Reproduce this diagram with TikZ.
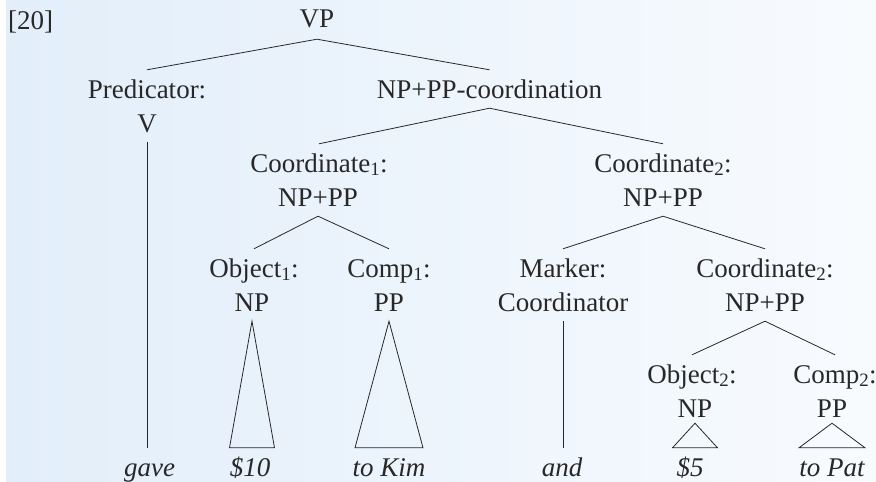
\documentclass[tikz,border=0pt]{standalone}
\usepackage{fontspec}
\setmainfont{Liberation Serif}
\definecolor{bgleft}{RGB}{226,238,250}
\definecolor{bgright}{RGB}{248,251,254}
\definecolor{ink}{RGB}{40,40,40}
\begin{document}
\begin{tikzpicture}[x=1pt,y=-1pt,
  lab/.style={anchor=base,inner xsep=0pt,inner ysep=10pt,text height=18pt,text depth=0pt,
    font=\fontsize{27}{32}\selectfont,text=ink},
  leaf/.style={lab,font=\fontsize{27}{32}\selectfont\itshape},
  branch/.style={draw=ink,line width=0.8pt,line join=miter}]
\useasboundingbox (0,0) rectangle (876,482);
\fill[white] (0,0) rectangle (876,482);
\shade[left color=bgleft,right color=bgright] (6,0) rectangle (876,482);
% label
\node[lab,anchor=base west] (num) at (8,29) {[20]};
% nodes
\node[lab] (vp) at (317,27) {VP};
\node[lab] (pred) at (147,98) {Predicator:};
\node[lab] (v) at (147,132) {V};
\node[lab] (coord) at (489.5,98) {NP+PP-coordination};
\node[lab] (c1) at (319,172) {Coordinate\textsubscript{1}:};
\node[lab] (c1np) at (318,206) {NP+PP};
\node[lab] (c2) at (663,172) {Coordinate\textsubscript{2}:};
\node[lab] (c2np) at (663,206) {NP+PP};
\node[lab] (obj1) at (254,277) {Object\textsubscript{1}:};
\node[lab] (np1) at (252,311) {NP};
\node[lab] (comp1) at (389,277) {Comp\textsubscript{1}:};
\node[lab] (pp1) at (389,311) {PP};
\node[lab] (mk) at (563,277) {Marker:};
\node[lab] (cdr) at (563,311) {Coordinator};
\node[lab] (c3) at (765,277) {Coordinate\textsubscript{2}:};
\node[lab] (c3np) at (765,311) {NP+PP};
\node[lab] (obj2) at (692,383) {Object\textsubscript{2}:};
\node[lab] (np2) at (695,417) {NP};
\node[lab] (comp2) at (835,383) {Comp\textsubscript{2}:};
\node[lab] (pp2) at (832,417) {PP};
% leaves
\node[leaf] (gave) at (149.5,476) {gave};
\node[leaf] (s10) at (250,476) {\$10};
\node[leaf] (kim) at (389,476) {to Kim};
\node[leaf] (and) at (562,476) {and};
\node[leaf] (s5) at (690,476) {\$5};
\node[leaf] (pat) at (832,476) {to Pat};
% branches
\draw[branch] (pred.north) -- ([yshift=-2pt]vp.south) -- (coord.north);
\draw[branch] (c1.north) -- (coord.south) -- (c2.north);
\draw[branch] (obj1.north) -- (c1np.south) -- (comp1.north);
\draw[branch] (mk.north) -- (c2np.south) -- (c3.north);
\draw[branch] (obj2.north) -- (c3np.south) -- (comp2.north);
\draw[branch] (v.south) -- (v.south |- gave.north);
\draw[branch] (cdr.south) -- (cdr.south |- and.north);
% triangles
\draw[branch] (np1.south) -- ([xshift=-22.5pt]np1.south |- s10.north) -- ([xshift=22.5pt]np1.south |- s10.north) -- cycle;
\draw[branch] (pp1.south) -- ([xshift=-34pt]pp1.south |- kim.north) -- ([xshift=34pt]pp1.south |- kim.north) -- cycle;
\draw[branch] ([yshift=4pt]np2.south) -- ([xshift=-22.5pt]np2.south |- s5.north) -- ([xshift=22.5pt]np2.south |- s5.north) -- cycle;
\draw[branch] ([yshift=4pt]pp2.south) -- ([xshift=-33pt]pp2.south |- pat.north) -- ([xshift=33pt]pp2.south |- pat.north) -- cycle;
\end{tikzpicture}
\end{document}
